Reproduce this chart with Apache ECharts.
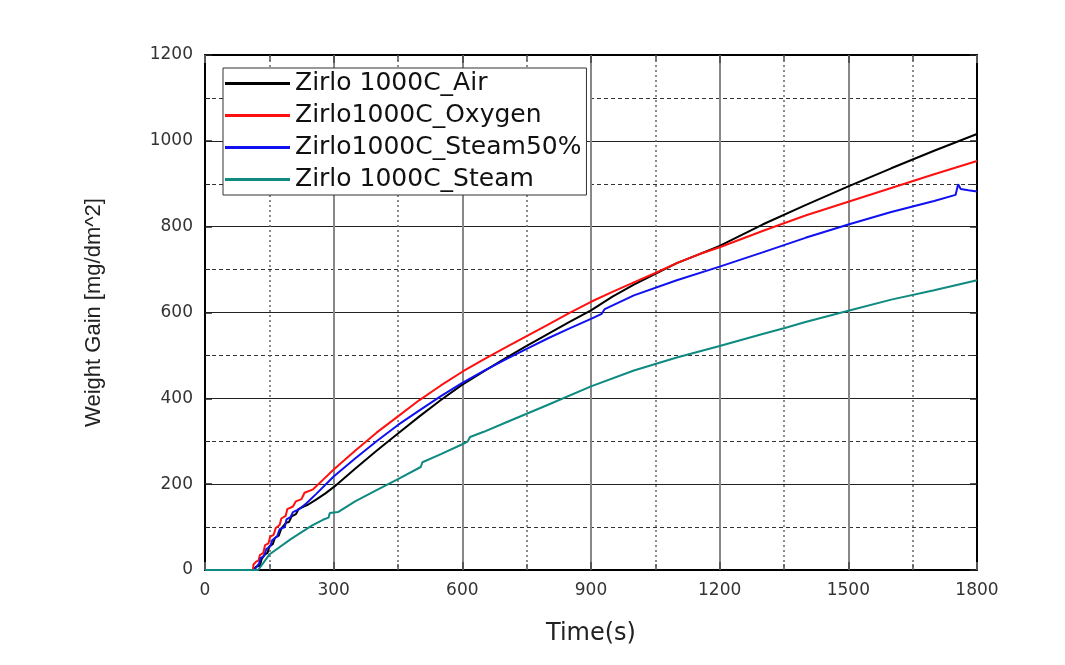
<!DOCTYPE html>
<html>
<head>
<meta charset="utf-8">
<script src="https://cdn.jsdelivr.net/npm/echarts@6/dist/echarts.min.js"></script>
<style>html,body{margin:0;padding:0;background:#fff;}#chart{width:1065px;height:665px;}</style>
</head>
<body>
<div id="chart"></div>
<script>
var seriesNames = ['Zirlo 1000C_Air', 'Zirlo1000C_Oxygen', 'Zirlo1000C_Steam50%', 'Zirlo 1000C_Steam'];
var xTicks = [0, 300, 600, 900, 1200, 1500, 1800];
var yTicks = [0, 200, 400, 600, 800, 1000, 1200];

var airData = [[0,0],[111,0],[120,8],[128,10],[132,25],[139,36],[146,40],[150,55],[158,60],[163,75],[172,80],[178,97],[189,110],[196,112],[202,125],[212,130],[218,142],[230,148],[240,152],[259,164],[280,178],[300,193],[350,236],[400,278],[450,318],[500,358],[550,396],[600,432],[650,463],[700,493],[750,522],[800,550],[850,578],[900,605],[950,637],[1000,665],[1050,690],[1100,715],[1150,735],[1200,755],[1300,805],[1400,850],[1500,894],[1600,936],[1700,977],[1800,1016]];
var oxygenData = [[0,0],[112,0],[113,13],[120,20],[125,22],[128,35],[136,40],[140,58],[148,62],[152,78],[160,82],[165,98],[174,105],[178,120],[188,126],[192,142],[205,148],[212,160],[225,165],[232,180],[252,188],[275,210],[300,234],[350,278],[400,320],[450,358],[500,396],[550,430],[600,462],[650,491],[700,518],[750,545],[800,572],[850,599],[900,625],[950,648],[1000,670],[1050,692],[1100,715],[1150,735],[1200,752],[1300,790],[1400,826],[1500,858],[1600,890],[1700,922],[1800,953]];
var steam50Data = [[0,0],[116,0],[119,6],[126,15],[130,28],[138,33],[143,49],[152,55],[157,70],[168,78],[174,95],[186,100],[190,118],[200,124],[205,135],[220,142],[236,155],[260,178],[300,218],[350,260],[400,300],[450,338],[500,372],[550,405],[600,436],[650,464],[700,490],[750,515],[800,540],[850,563],[900,585],[925,597],[932,608],[1000,640],[1100,675],[1200,707],[1300,740],[1400,774],[1500,805],[1600,834],[1700,860],[1750,874],[1756,899],[1762,888],[1780,885],[1800,882]];
var steamData = [[0,0],[124,0],[150,36],[200,72],[250,104],[275,117],[288,122],[291,133],[310,135],[350,160],[400,186],[450,212],[503,240],[507,251],[550,270],[600,293],[612,299],[618,310],[650,322],[700,343],[800,385],[900,428],[1000,465],[1100,495],[1200,522],[1300,550],[1352,564],[1400,578],[1500,604],[1600,630],[1700,652],[1800,675]];

var colors = ['#000000', '#ff1010', '#1010f0', '#0e8a80'];
var allData = [airData, oxygenData, steam50Data, steamData];

var chart = echarts.init(document.getElementById('chart'), null, {renderer: 'canvas'});
var F = 'DejaVu Sans';
function plain(v) { return String(v); }
var option = {
  animation: false,
  backgroundColor: '#ffffff',
  grid: {left: 205, right: 88, top: 55, bottom: 95, containLabel: false},
  legend: {
    orient: 'vertical',
    left: 223, top: 68,
    padding: [3, 5, 3, 2],
    itemGap: 7,
    itemWidth: 65, itemHeight: 3,
    icon: 'rect',
    backgroundColor: '#ffffff',
    borderColor: '#333', borderWidth: 1,
    textStyle: {fontFamily: F, fontSize: 25, lineHeight: 24, color: '#111'},
    data: seriesNames
  },
  xAxis: [{
    type: 'value', min: 0, max: 1800, interval: 300,
    name: 'Time(s)', nameLocation: 'middle', nameGap: 52,
    nameTextStyle: {fontFamily: F, fontSize: 24, color: '#222'},
    axisLine: {show: true, lineStyle: {color: '#000', width: 2}},
    axisTick: {show: true, inside: true, length: 8, lineStyle: {color: '#555', width: 2}},
    minorTick: {show: true, splitNumber: 2, length: 6, lineStyle: {color: '#555', width: 1.5}},
    axisLabel: {fontFamily: F, fontSize: 17, color: '#333', margin: 12, formatter: plain},
    splitLine: {show: true, lineStyle: {color: '#888', width: 2}},
    minorSplitLine: {show: true, lineStyle: {color: '#666', width: 1.5, type: [2, 3]}}
  }, {
    type: 'value', min: 0, max: 1800, interval: 300, position: 'top',
    axisLine: {show: true, onZero: false, lineStyle: {color: '#000', width: 2}},
    axisTick: {show: true, inside: true, length: 8, lineStyle: {color: '#555', width: 2}},
    minorTick: {show: true, splitNumber: 2, length: 6, lineStyle: {color: '#555', width: 1.5}},
    axisLabel: {show: false}, splitLine: {show: false}
  }],
  yAxis: [{
    type: 'value', min: 0, max: 1200, interval: 200,
    name: 'Weight Gain [mg/dm^2]', nameLocation: 'middle', nameGap: 100, nameRotate: 90,
    nameTextStyle: {fontFamily: 'Liberation Sans', fontSize: 22, color: '#222'},
    axisLine: {show: true, lineStyle: {color: '#000', width: 2}},
    axisTick: {show: true, inside: true, length: 7, lineStyle: {color: '#222', width: 1.5}},
    minorTick: {show: true, splitNumber: 2, length: 5, lineStyle: {color: '#222', width: 1}},
    axisLabel: {fontFamily: F, fontSize: 17, color: '#333', margin: 12, formatter: plain},
    splitLine: {show: true, lineStyle: {color: '#222', width: 1}},
    minorSplitLine: {show: true, lineStyle: {color: '#333', width: 1, type: [4, 3]}}
  }, {
    type: 'value', min: 0, max: 1200, interval: 200, position: 'right',
    axisLine: {show: true, onZero: false, lineStyle: {color: '#000', width: 2}},
    axisTick: {show: true, inside: true, length: 7, lineStyle: {color: '#222', width: 1.5}},
    minorTick: {show: true, splitNumber: 2, length: 5, lineStyle: {color: '#222', width: 1}},
    axisLabel: {show: false}, splitLine: {show: false}
  }],
  series: seriesNames.map(function (n, i) {
    return {
      name: n, type: 'line', data: allData[i],
      xAxisIndex: 0, yAxisIndex: 0,
      showSymbol: false, symbol: 'none',
      color: colors[i],
      lineStyle: {color: colors[i], width: 2},
      z: 3
    };
  })
};
chart.setOption(option);
</script>
</body>
</html>
